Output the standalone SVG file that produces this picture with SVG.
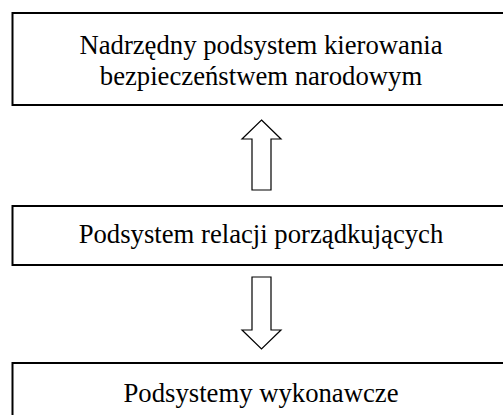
<svg xmlns="http://www.w3.org/2000/svg" width="503" height="415" viewBox="0 0 503 415">
<style>
.box{fill:#fff;stroke:#000;stroke-width:2}
.t{font-family:"Liberation Serif","Times New Roman",serif;font-size:26.7px;fill:#000;text-anchor:middle}
.arr{fill:#fff;stroke:#000;stroke-width:1.2;stroke-linejoin:miter}
</style>
<rect width="503" height="415" fill="#fff"/>
<g id="node1">
<rect class="box" x="12.5" y="13" width="500" height="92"/>
<text class="t" x="261" y="54.3">Nadrzędny podsystem kierowania</text>
<text class="t" x="261" y="85">bezpieczeństwem narodowym</text>
</g>
<g id="node2">
<rect class="box" x="12.5" y="206" width="500" height="59"/>
<text class="t" x="261" y="243.3">Podsystem relacji porządkujących</text>
</g>
<g id="node3">
<rect class="box" x="12.5" y="363" width="500" height="70"/>
<text class="t" x="261" y="401.7">Podsystemy wykonawcze</text>
</g>
<g id="connectors">
<polygon class="arr" points="261.5,120 281,139 271,139 271,190 252,190 252,139 242,139"/>
<polygon class="arr" points="252,277 271,277 271,330 281,330 261.5,349 242,330 252,330"/>
</g>
</svg>
